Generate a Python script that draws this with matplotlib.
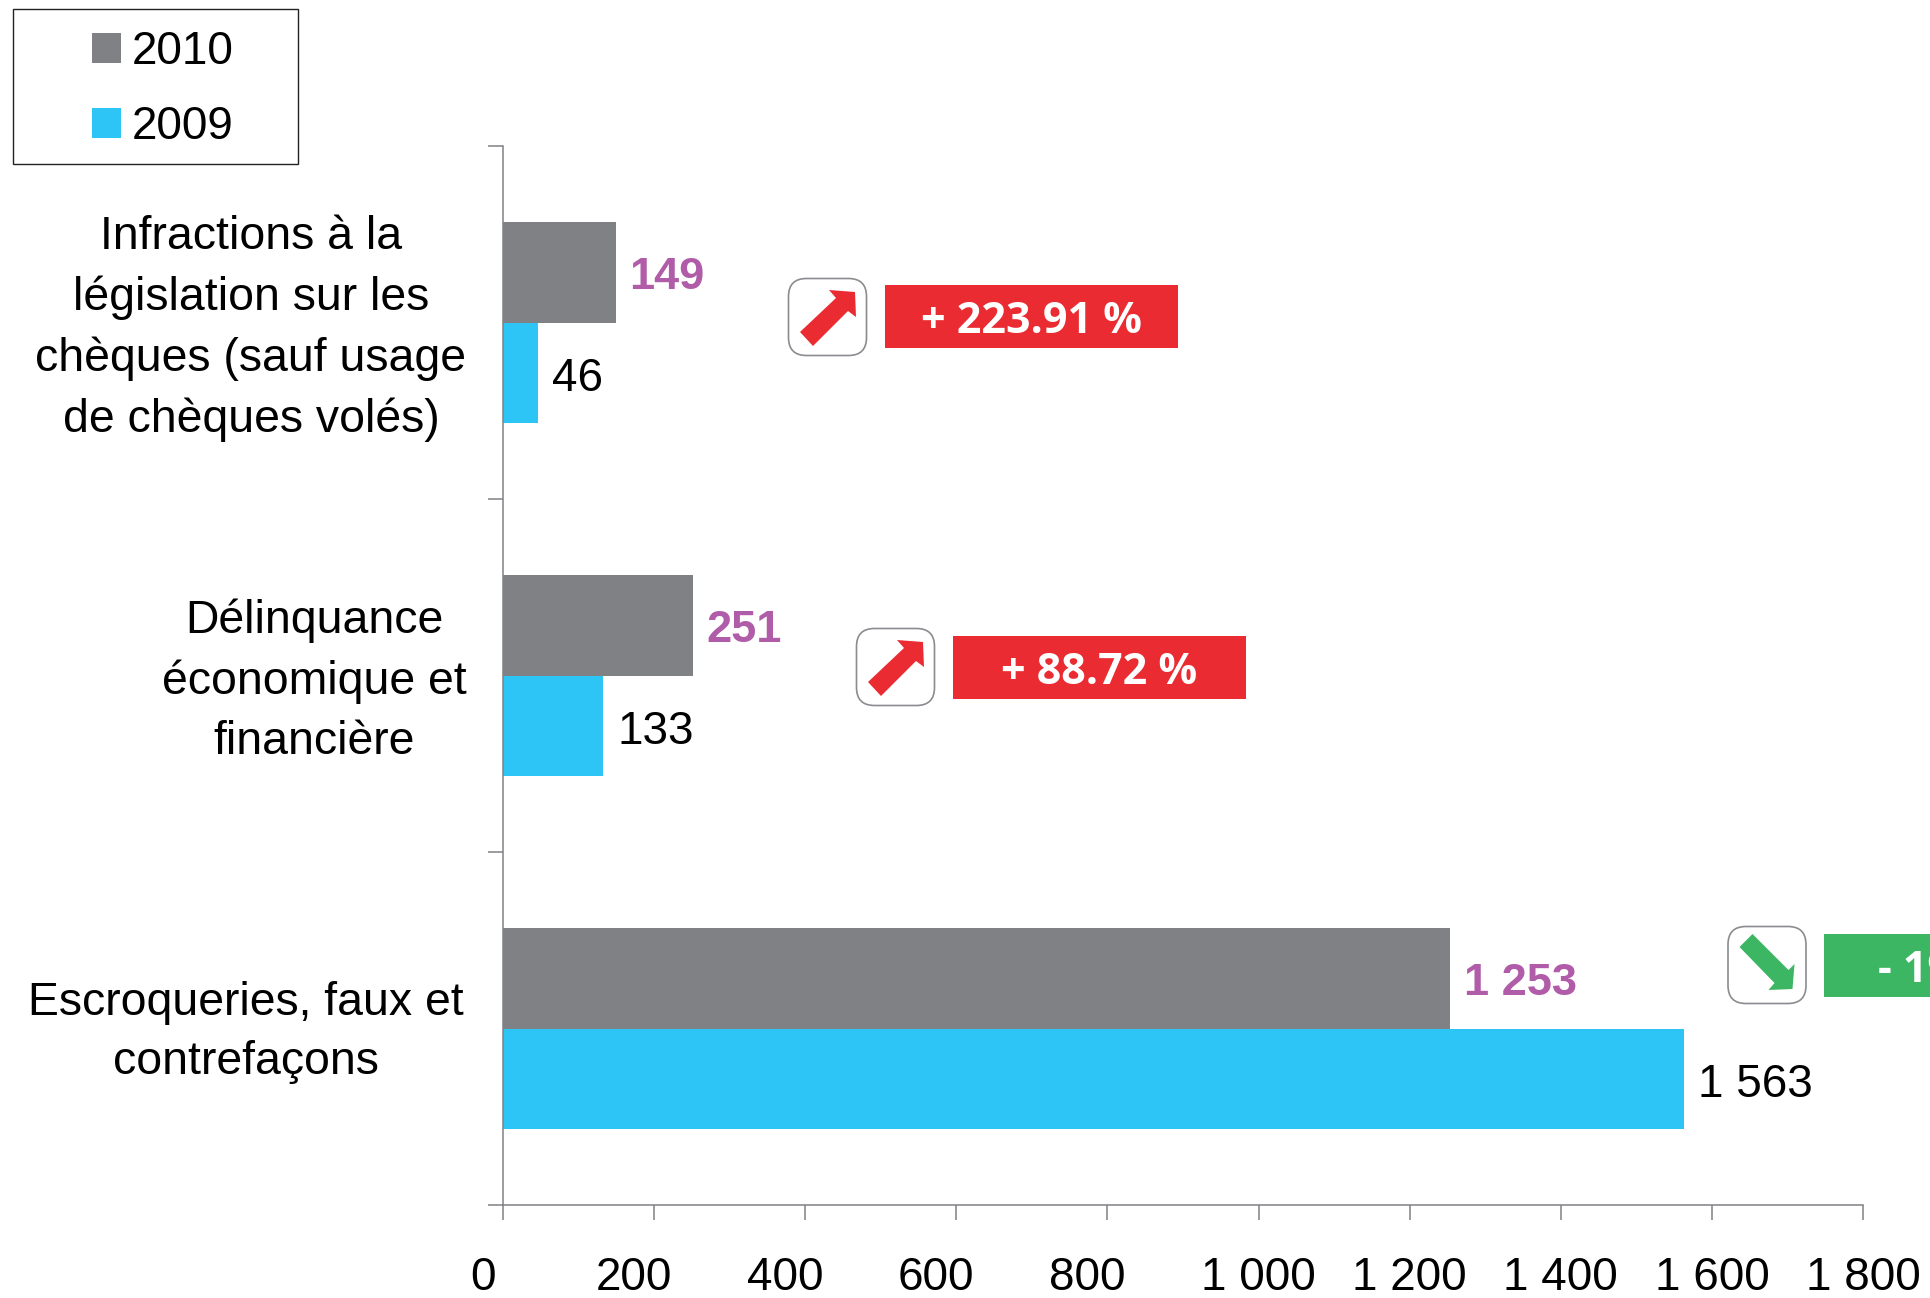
import matplotlib
matplotlib.use('Agg')
import matplotlib.pyplot as plt
from matplotlib.patches import FancyBboxPatch, Polygon, Rectangle
from matplotlib.transforms import ScaledTranslation

categories = ['Infractions à la\nlégislation sur les\nchèques (sauf usage\nde chèques volés)',
              'Délinquance\néconomique et\nfinancière',
              'Escroqueries, faux et\ncontrefaçons']
values_2010 = [149, 251, 1253]
values_2009 = [46, 133, 1563]
labels_2010 = ['149', '251', '1 253']
labels_2009 = ['46', '133', '1 563']
changes = ['+ 223.91 %', '+ 88.72 %', '- 19.83 %']
xticks = [0, 200, 400, 600, 800, 1000, 1200, 1400, 1600, 1800]
xticklabels = ['0', '200', '400', '600', '800', '1 000', '1 200', '1 400', '1 600', '1 800']

GREY = '#808185'
BLUE = '#2DC4F6'
RED = '#EA2B31'
GREEN = '#3CB662'
PURPLE = '#B05CA8'
W, H = 1931, 1298

plt.rcParams['font.family'] = ['Liberation Sans', 'DejaVu Sans']
fig = plt.figure(figsize=(W / 100, H / 100), dpi=100)
ax = fig.add_axes([503 / W, 1 - 1205 / H, 1360 / W, 1059 / H])

# overlay in pixel coordinates for the callouts and the legend box
ov = fig.add_axes([0, 0, 1, 1])
ov.set_xlim(0, W)
ov.set_ylim(H, 0)
ov.axis('off')
ov.patch.set_alpha(0)

bar_h = 0.286
ypos = [0, 1, 2]
bars_2010 = ax.barh([y - bar_h / 2 for y in ypos], values_2010, height=bar_h, color=GREY, label='2010')
bars_2009 = ax.barh([y + bar_h / 2 for y in ypos], values_2009, height=bar_h, color=BLUE, label='2009')

for i in ypos:
    ax.annotate(labels_2010[i], (values_2010[i], i - bar_h / 2), xytext=(10, -4), textcoords='offset points',
                va='center', ha='left', fontsize=32.5, fontweight='bold', color=PURPLE)
    ax.annotate(labels_2009[i], (values_2009[i], i + bar_h / 2), xytext=(10, -4), textcoords='offset points',
                va='center', ha='left', fontsize=33, color='black')

ax.set_xlim(0, 1800)
ax.set_ylim(2.5, -0.5)
ax.set_xticks(xticks)
ax.set_xticklabels(xticklabels, fontsize=33)
ax.set_yticks([-0.5, 0.5, 1.5, 2.5])
ax.set_yticklabels([])
ax.tick_params(axis='both', length=11, width=1.1, color=GREY)
ax.tick_params(axis='x', pad=26)
# the three digit labels sit left of their ticks in the original
shift = ScaledTranslation(-20 / 100, 0, fig.dpi_scale_trans)
for val, lab in zip(xticks, ax.get_xticklabels()):
    if val < 1000:
        lab.set_transform(lab.get_transform() + shift)
for s in ['top', 'right']:
    ax.spines[s].set_visible(False)
for s in ['left', 'bottom']:
    ax.spines[s].set_color(GREY)
    ax.spines[s].set_linewidth(1.1)

# category labels
cat_x = [251, 314, 246]
cat_y = [328.5, 681.5, 1032.5]
for i in ypos:
    ov.text(cat_x[i], cat_y[i], categories[i], ha='center', va='center', fontsize=33.4, linespacing=1.47,
            color='black')

# legend
ov.add_patch(Rectangle((13, 9), 285, 155, fill=False, edgecolor='#222222', linewidth=1))
leg = ov.legend(handles=[bars_2010, bars_2009], loc='upper left', bbox_to_anchor=(92 / W, 1 - 30 / H),
                frameon=False, fontsize=33, borderpad=0, borderaxespad=0, handlelength=0.63,
                handleheight=0.63, handletextpad=0.24, labelspacing=0.68)

# callouts
box_x = [885, 953, 1824]
box_y = [285, 635.5, 933.5]
badge_x = [788, 856, 1727.5]
badge_y = [278, 628, 926]
box_col = [RED, RED, GREEN]
up_arrow = [(67, 14), (41, 12), (48, 20), (12, 54), (25, 68), (60, 33), (68, 39)]
down_arrow = [(25, 8), (12, 21), (47, 57), (41, 64), (65, 63), (67, 38), (61, 44)]
for i in ypos:
    ov.add_patch(Rectangle((box_x[i], box_y[i]), 293, 63, facecolor=box_col[i], edgecolor='none', clip_on=False))
    ov.text(box_x[i] + 146.5, box_y[i] + 31.5, changes[i], ha='center', va='center_baseline', color='white',
            fontsize=31, fontweight='bold', family='Open Sans')
    ov.add_patch(FancyBboxPatch((badge_x[i] + 18.5, badge_y[i] + 18.5), 42, 41, boxstyle='round,pad=18,rounding_size=18',
                                facecolor='white', edgecolor='#8A8C90', linewidth=1.2))
    arrow = up_arrow if box_col[i] == RED else down_arrow
    pts = [(badge_x[i] + px, badge_y[i] + py) for px, py in arrow]
    ov.add_patch(Polygon(pts, closed=True, facecolor=box_col[i], edgecolor='none'))

fig.savefig('out.png', dpi=100)
